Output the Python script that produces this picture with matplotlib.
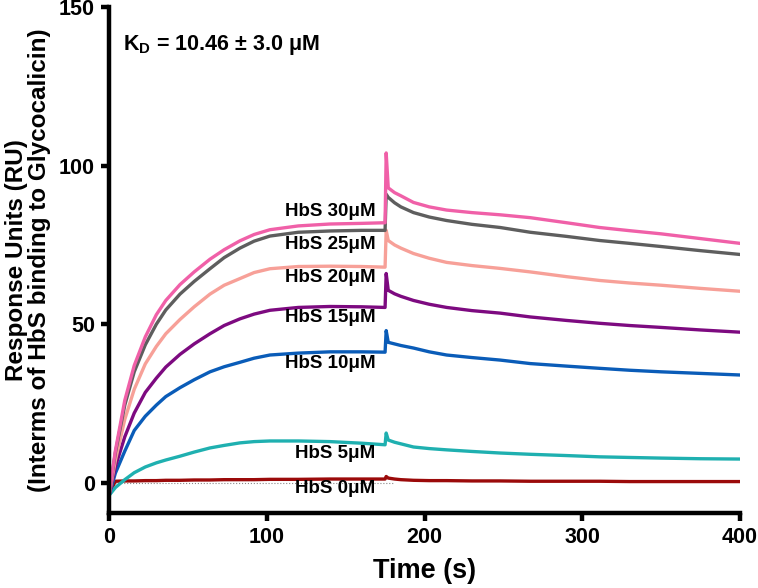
import numpy as np
import matplotlib
matplotlib.use('Agg')
import matplotlib.pyplot as plt

plt.rcParams['font.family'] = ['Liberation Sans', 'DejaVu Sans']
plt.rcParams['font.weight'] = 'bold'
plt.rcParams['mathtext.fontset'] = 'custom'
plt.rcParams['mathtext.rm'] = 'Liberation Sans:bold'
plt.rcParams['mathtext.bf'] = 'Liberation Sans:bold'

# association phase (s)
t_assoc = [0, 4, 10, 16, 23, 30, 36, 45, 54, 64, 73, 83, 92, 102, 120, 140, 160, 175]
# dissociation phase, first point is the injection spike
t_dissoc = [175.7, 177, 181, 185, 193, 203, 214, 230, 248, 267, 290, 311, 330, 350, 375, 400]

hbs30_a = [-4, 10, 26, 37, 46, 53, 57.5, 62.5, 66.5, 70.5, 73.5, 76.3, 78.3, 79.8, 81, 81.6, 81.8, 82]
hbs30_d = [104, 93, 91.5, 90.5, 88.4, 87, 86, 85.2, 84.5, 83.6, 82, 80.5, 79.5, 78.5, 77, 75.5]
hbs25_a = [-4, 9.4, 24.5, 35, 43.5, 50, 54.5, 59.5, 63.5, 67.5, 71, 74, 76.2, 77.8, 79, 79.4, 79.6, 79.6]
hbs25_d = [91, 90, 88.3, 87, 85.2, 83.8, 82.7, 81.5, 80.5, 79, 77.7, 76.4, 75.5, 74.5, 73.2, 72]
hbs20_a = [-4, 7, 20, 29.5, 37.5, 43, 47, 51.5, 55.5, 59.5, 62.3, 64.4, 66.3, 67.5, 68.2, 68.3, 68.2, 68]
hbs20_d = [79.6, 76.4, 75, 74, 72.3, 70.8, 69.5, 68.5, 67.6, 66.5, 65, 63.8, 63, 62.3, 61.3, 60.4]
hbs15_a = [-4, 5, 14.5, 22, 28.5, 33, 36.5, 40.5, 43.8, 47, 49.6, 51.7, 53.2, 54.4, 55.3, 55.6, 55.5, 55.3]
hbs15_d = [66, 60.7, 59.6, 58.8, 57.5, 56.3, 55.3, 54.3, 53.5, 52.3, 51.2, 50.3, 49.6, 49, 48.2, 47.5]
hbs10_a = [-4, 3, 10, 16.5, 21, 24.5, 27.2, 30, 32.5, 35, 36.6, 38, 39.3, 40.3, 40.9, 41.3, 41.3, 41.2]
hbs10_d = [48, 44.3, 43.8, 43.3, 42.5, 41.3, 40.3, 39.5, 38.7, 37.6, 36.8, 36.1, 35.5, 35, 34.5, 34]
hbs5_a = [-4, -1.5, 1, 3.2, 5, 6.3, 7.2, 8.4, 9.7, 11, 11.8, 12.6, 13, 13.2, 13.2, 13, 12.5, 12]
hbs5_d = [15.7, 13.5, 12.8, 12.3, 11.3, 10.8, 10.4, 9.9, 9.4, 9, 8.6, 8.2, 8, 7.8, 7.6, 7.5]
hbs0_a = [-3.5, 0.5, 0.6, 0.6, 0.7, 0.7, 0.8, 0.8, 0.9, 0.9, 1.0, 1.0, 1.0, 1.1, 1.1, 1.2, 1.2, 1.2]
hbs0_d = [2, 1.5, 1.2, 1, 0.8, 0.7, 0.7, 0.6, 0.6, 0.5, 0.5, 0.5, 0.4, 0.4, 0.4, 0.4]

series = [
    ('HbS 0μM', hbs0_a, hbs0_d, '#9b0a0a', -1.8),
    ('HbS 5μM', hbs5_a, hbs5_d, '#1fb0b0', 9.1),
    ('HbS 10μM', hbs10_a, hbs10_d, '#0a5cb8', 37.7),
    ('HbS 15μM', hbs15_a, hbs15_d, '#7d0a80', 52.2),
    ('HbS 20μM', hbs20_a, hbs20_d, '#f7a098', 64.8),
    ('HbS 25μM', hbs25_a, hbs25_d, '#5e5e5e', 75.0),
    ('HbS 30μM', hbs30_a, hbs30_d, '#f060a8', 85.5),
]

fig = plt.figure(figsize=(7.58, 5.88), dpi=100)
ax = fig.add_axes([0.1438, 0.1276, 0.8325, 0.8604])

ax.plot([0, 180], [0, 0], ls=':', color='#888888', lw=0.8, zorder=1)
t_all = np.concatenate([t_assoc, t_dissoc])
for name, a, d, col, ly in series:
    ax.plot(t_all, np.concatenate([a, d]), color=col, lw=2.4, zorder=2,
            solid_joinstyle='round')
    ax.text(169, ly, name, ha='right', va='center', fontsize=13.5,
            fontweight='bold', color='black', zorder=3)

ax.text(9, 138, r'$\mathbf{K_D}$ = 10.46 ± 3.0 μM', fontsize=15.5,
        fontweight='bold', va='center', ha='left')

ax.set_xlim(0, 400)
ax.set_ylim(-9.5, 150)
ax.set_xticks([0, 100, 200, 300, 400])
ax.set_yticks([0, 50, 100, 150])
for s in ['top', 'right']:
    ax.spines[s].set_visible(False)
for s in ['left', 'bottom']:
    ax.spines[s].set_linewidth(3.2)
ax.tick_params(width=3.2, length=6, labelsize=15.5, pad=4)
for lab in ax.get_xticklabels() + ax.get_yticklabels():
    lab.set_fontweight('bold')

ax.set_xlabel('Time (s)', fontsize=19.5, fontweight='bold', labelpad=7)
ax.set_ylabel('Response Units (RU)\n(Interms of HbS binding to Glycocalicin)',
              fontsize=17.5, fontweight='bold', labelpad=6, linespacing=1.0)

fig.savefig('out.png', dpi=100)
